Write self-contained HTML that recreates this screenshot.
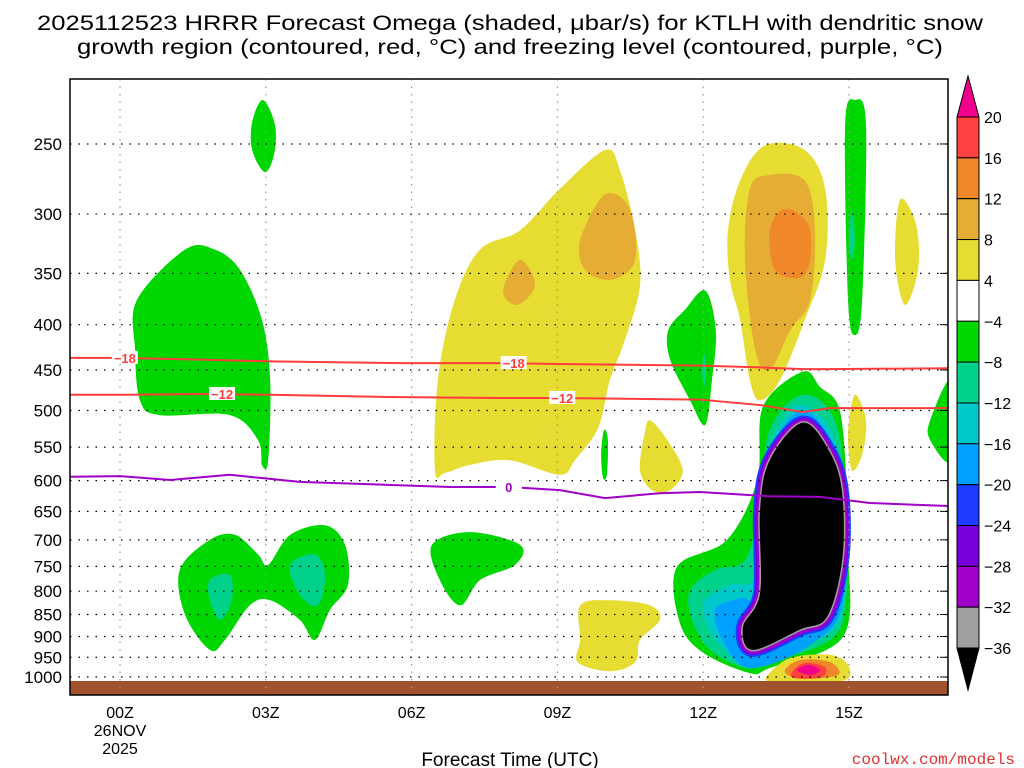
<!DOCTYPE html>
<html><head><meta charset="utf-8"><style>
html,body{margin:0;padding:0;background:#fff;}
svg{display:block;font-family:"Liberation Sans","DejaVu Sans",sans-serif;}
</style></head><body>
<svg id="chart" width="1024" height="768" viewBox="0 0 1024 768" xmlns="http://www.w3.org/2000/svg">
<text x="510" y="30" font-size="21" text-anchor="middle" textLength="946" lengthAdjust="spacingAndGlyphs">2025112523 HRRR Forecast Omega (shaded, μbar/s) for KTLH with dendritic snow</text>
<text x="510" y="54" font-size="21" text-anchor="middle" textLength="866" lengthAdjust="spacingAndGlyphs">growth region (contoured, red, °C) and freezing level (contoured, purple, °C)</text>
<defs><clipPath id="pc"><rect x="70" y="79" width="878" height="616"/></clipPath></defs>
<g id="plot" clip-path="url(#pc)"></g>
<g id="grid"></g>
<g id="lines"></g>
<rect x="70" y="79" width="878" height="616" fill="none" stroke="#000" stroke-width="1.5"/>
<g id="axes"></g>
<g id="cbar"></g>
<text x="510" y="766" font-size="19" text-anchor="middle">Forecast Time (UTC)</text>
<text x="1015" y="764" font-size="16" fill="#e03030" text-anchor="end" font-family="Liberation Mono, monospace">coolwx.com/models</text>
</svg>
<script>
const xTicks=[0,3,6,9,12,15];
const xTickLabels=["00Z","03Z","06Z","09Z","12Z","15Z"];
const yTicks=[250,300,350,400,450,500,550,600,650,700,750,800,850,900,950,1000];
const cbLevels=[20,16,12,8,4,-4,-8,-12,-16,-20,-24,-28,-32,-36];
const cbColors=["#ff4040","#f0882a","#e6ad35","#e6dc32","#ffffff","#00d700","#00d28c","#00c8c8","#00a0ff","#1e3cff","#7800dc","#a000c8","#a0a0a0"];
const blobs=[
["#00d700",[[2.94,223],[3.19,238],[3.17,257],[2.98,269],[2.72,254],[2.72,236]]],
["#00d700",[[0.35,375],[1.34,329],[1.95,329],[2.47,347],[2.92,395],[3.09,462],[3.05,569],[2.92,576],[2.84,540],[2.26,506],[0.82,506],[0.41,487],[0.31,427]]],
["#e6dc32",[[6.48,584],[6.54,462],[6.89,375],[7.41,329],[8.23,313],[9.05,281],[9.98,254],[10.29,268],[10.60,313],[10.70,361],[10.39,416],[10.08,462],[9.84,523],[9.36,569],[9.05,591],[8.02,569],[7.20,576],[6.69,588]]],
["#e6ad35",[[9.47,321],[9.98,285],[10.49,296],[10.60,338],[10.12,356],[9.57,347]]],
["#e6ad35",[[7.88,366],[8.23,338],[8.54,361],[8.17,380]]],
["#e6dc32",[[12.51,313],[12.76,275],[13.27,251],[14.09,254],[14.51,281],[14.51,338],[14.09,395],[13.58,462],[13.17,487],[12.96,462],[12.76,395],[12.55,356]]],
["#e6ad35",[[12.86,338],[12.96,281],[13.37,271],[14.09,275],[14.30,313],[14.20,375],[13.79,406],[13.37,450],[13.07,427]]],
["#f0882a",[[13.37,313],[13.68,296],[14.16,308],[14.20,338],[13.99,354],[13.48,347]]],
["#00d700",[[15.12,223],[15.35,238],[15.27,375],[15.12,411],[14.98,375],[14.92,238]]],
["#00d28c",[[15.06,296],[15.12,321],[15.06,338],[15.0,321]]],
["#e6dc32",[[16.05,289],[16.38,308],[16.42,347],[16.15,380],[15.95,338]]],
["#00d700",[[12.04,366],[12.26,406],[12.18,462],[12.04,519],[11.73,487],[11.32,438],[11.28,406],[11.62,385]]],
["#00d28c",[[12.02,430],[12.06,450],[12.02,470],[11.98,450]]],
["#00d700",[[17.1,462],[16.67,513],[16.67,540],[17.1,569]]],
["#e6dc32",[[10.91,513],[11.26,540],[11.58,584],[11.32,615],[10.95,615],[10.70,584],[10.80,530]]],
["#00d700",[[9.96,526],[10.04,540],[10.02,590],[9.94,596],[9.9,560]]],
["#e6dc32",[[15.12,480],[15.35,513],[15.27,561],[15.06,584],[14.98,530]]],
["#00d700",[[1.23,757],[1.85,700],[2.37,691],[2.84,727],[3.05,747],[3.50,691],[4.22,674],[4.63,709],[4.69,787],[4.32,840],[4.01,908],[3.70,862],[3.09,819],[2.67,830],[2.16,908],[1.85,932],[1.34,851]]],
["#00d28c",[[1.85,777],[2.26,767],[2.30,819],[2.06,862],[1.85,819]]],
["#00d28c",[[3.50,747],[4.01,727],[4.22,767],[4.07,830],[3.70,808]]],
["#00d700",[[6.42,709],[7.20,686],[8.23,709],[8.13,747],[7.41,777],[7.0,830],[6.58,777]]],
["#e6dc32",[[9.47,830],[10.08,819],[10.91,830],[11.11,862],[10.70,908],[10.60,962],[10.08,985],[9.42,962],[9.47,908]]],
["#00d700",[[14.05,452],[14.4,470],[14.81,500],[14.96,620],[14.98,718],[14.88,900],[13.37,977],[12.96,990],[12.0,939],[11.52,869],[11.46,751],[12.49,700],[13.11,599],[13.23,495]]],
["#00d28c",[[11.73,798],[12.24,757],[12.86,738],[13.13,648],[13.37,526],[14.05,480],[14.71,513],[14.92,631],[14.94,819],[14.61,908],[13.37,962],[12.86,977],[12.14,932],[11.77,862]]],
["#00c8c8",[[12.04,819],[12.55,787],[13.07,767],[13.17,599],[13.58,519],[14.05,493],[14.71,540],[14.90,700],[14.81,862],[13.99,927],[12.96,977],[12.35,920],[12.04,862]]],
["#00a0ff",[[12.24,840],[12.76,814],[13.11,798],[13.27,584],[14.05,500],[14.81,584],[14.88,819],[14.2,920],[13.0,977],[12.45,920]]],
["#e6dc32",[[13.33,995],[13.79,952],[14.61,944],[14.98,969],[14.92,1008],[13.99,1012],[13.37,1012]]],
["#f0882a",[[13.68,985],[13.99,957],[14.61,962],[14.77,995],[14.0,1005]]],
["#ff4040",[[13.83,987],[14.09,964],[14.51,975],[14.44,1000],[13.89,1003]]],
["#f0008c",[[13.93,982],[14.16,969],[14.40,982],[14.2,995]]]
];
const coreHours=[14.05,14.61,14.86,14.86,14.55,13.99,13.02,12.82,13.17,13.17,13.37];
const corePress=[516,558,620,738,855,884,932,878,804,648,569];
const lineHours=[-1.03,0,1.65,3.09,5.76,7.82,9.05,11.93,13.17,14.05,14.6,17.04];
const tm18=[436,436,438,440,442,442,443,445,447,449,449,448];
const tm12=[480,480,479,480,483,484,484,486,493,502,497,497];
const frzHours=[-1.03,0,1.03,2.26,3.7,6.79,8.02,9.05,9.98,11.1,11.93,13.37,14.4,15.43,17.04];
const frz=[594,593,599,591,602,610,610,615,628,620,618,625,626,636,641];

const NS="http://www.w3.org/2000/svg";
const X=h=>120+48.6*h;
const Y=p=>677-384.5*Math.log(1000/p);
function mk(tag,attrs,parent){const e=document.createElementNS(NS,tag);for(const k in attrs)e.setAttribute(k,attrs[k]);parent.appendChild(e);return e;}
function smooth(pts){const n=pts.length;let d=`M${pts[0][0]},${pts[0][1]}`;
for(let i=0;i<n;i++){const p0=pts[(i-1+n)%n],p1=pts[i],p2=pts[(i+1)%n],p3=pts[(i+2)%n];
d+=`C${p1[0]+(p2[0]-p0[0])/6},${p1[1]+(p2[1]-p0[1])/6} ${p2[0]-(p3[0]-p1[0])/6},${p2[1]-(p3[1]-p1[1])/6} ${p2[0]},${p2[1]}`;}return d+"Z";}
function poly(xs,ys){return xs.map((h,i)=>`${i?"L":"M"}${X(h)},${Y(ys[i])}`).join("");}
const plot=document.getElementById("plot");
blobs.forEach((b,i)=>{const el=mk("path",{d:smooth(b[1].map(q=>[X(q[0]),Y(q[1])])),fill:b[0]},plot);

});
const coreD=smooth(coreHours.map((h,i)=>[X(h),Y(corePress[i])]));
[["#1e3cff",14],["#7800dc",10],["#a000c8",7],["#a0a0a0",3]].forEach(r=>{const el=mk("path",{d:coreD,fill:"none",stroke:r[0],"stroke-width":r[1],"stroke-linejoin":"round"},plot);

});
const core=mk("path",{d:coreD,fill:"#000"},plot);


const ground=mk("rect",{x:70,y:681,width:878,height:14,fill:"#a0522d"},plot);


const grid=document.getElementById("grid");
xTicks.forEach(h=>{const el=mk("line",{x1:X(h),x2:X(h),y1:79,y2:695,stroke:"#999","stroke-width":1.2,"stroke-dasharray":"1.5 6"},grid);

});
yTicks.forEach(p=>{const el=mk("line",{x1:70,x2:948,y1:Y(p),y2:Y(p),stroke:"#000","stroke-width":1.2,"stroke-dasharray":"1.5 7"},grid);

});
const lines=document.getElementById("lines");
function contour(xs,ys,col,name){const el=mk("path",{d:poly(xs,ys),fill:"none",stroke:col,"stroke-width":2},lines);

}
contour(lineHours,tm18,"#ff3c3c","contour-minus18");
contour(lineHours,tm12,"#ff3c3c","contour-minus12");
contour(frzHours,frz,"#a000c8","freezing-level");
function lab(txt,h,p,col){const bg=mk("rect",{x:X(h)-13,y:Y(p)-7,width:26,height:13,fill:"#fff"},lines);


const t=mk("text",{x:X(h),y:Y(p)+5,"font-size":13,"font-weight":"bold",fill:col,"text-anchor":"middle"},lines);t.textContent=txt;

}
lab("−18",0.1,436,"#ff3c3c");lab("−18",8.1,442,"#ff3c3c");
lab("−12",2.1,479,"#ff3c3c");lab("−12",9.1,484,"#ff3c3c");
lab("0",8.0,610,"#a000c8");
const axes=document.getElementById("axes");
yTicks.forEach(p=>{const t=mk("text",{x:62,y:Y(p)+6,"font-size":17,"text-anchor":"end"},axes);t.textContent=p;


const tk=mk("line",{x1:940,x2:948,y1:Y(p),y2:Y(p),stroke:"#000"},axes);

});
xTicks.forEach((h,i)=>{const t=mk("text",{x:X(h),y:718,"font-size":16,"text-anchor":"middle"},axes);t.textContent=xTickLabels[i];

});
[["26NOV",736],["2025",754]].forEach(a=>{const t=mk("text",{x:X(0),y:a[1],"font-size":16,"text-anchor":"middle"},axes);t.textContent=a[0];

});
const cb=document.getElementById("cbar");
const cx0=957,cw=22,ctop=117,cstep=40.85;
const tri1=mk("path",{d:`M${cx0},${ctop}L${cx0+cw/2},76L${cx0+cw},${ctop}Z`,fill:"#f0008c",stroke:"#000"},cb);


cbColors.forEach((c,i)=>{const r=mk("rect",{x:cx0,y:ctop+i*cstep,width:cw,height:cstep,fill:c,stroke:"#000"},cb);

});
const yb=ctop+cbColors.length*cstep;
const tri2=mk("path",{d:`M${cx0},${yb}L${cx0+cw/2},690L${cx0+cw},${yb}Z`,fill:"#000",stroke:"#000"},cb);


cbLevels.forEach((v,i)=>{const t=mk("text",{x:984,y:ctop+i*cstep+6,"font-size":16},cb);t.textContent=v<0?"−"+(-v):v;

});
</script>
</body></html>
